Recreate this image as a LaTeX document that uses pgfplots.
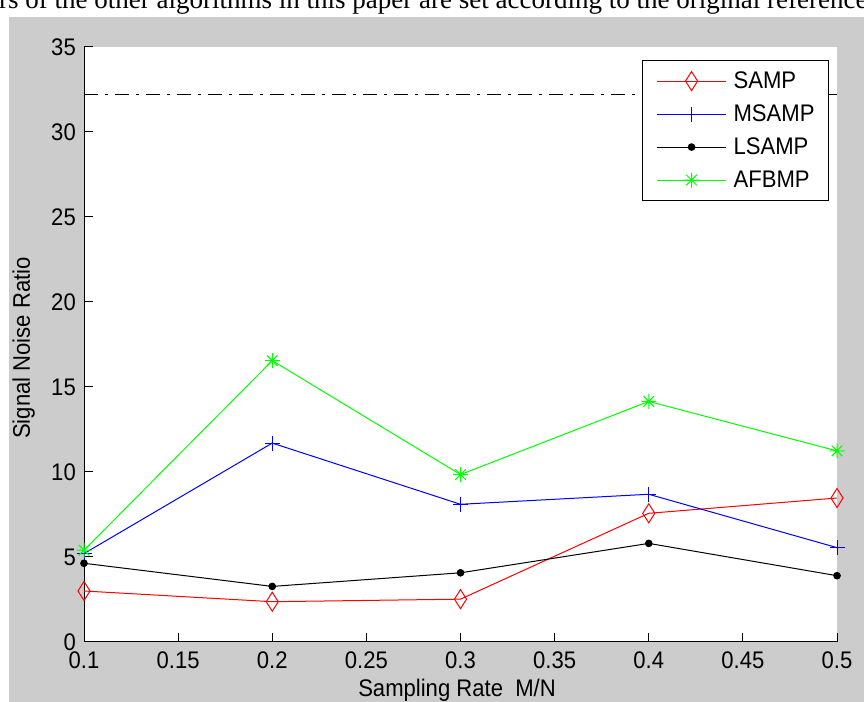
\documentclass[border=0pt]{standalone}
\usepackage{fontspec}
\usepackage{pgfplots}
\pgfplotsset{compat=1.18}
\usetikzlibrary{plotmarks}
\newfontfamily\matfont[FakeStretch=0.92]{Liberation Sans}
\newfontfamily\timesfont{Liberation Serif}
\definecolor{figgray}{RGB}{204,204,204}
\newcommand{\mf}{\matfont\fontsize{24bp}{28bp}\selectfont}
\pgfdeclareplotmark{mstar}{%
 \pgfpathmoveto{\pgfqpoint{-\pgfplotmarksize}{0pt}}\pgfpathlineto{\pgfqpoint{\pgfplotmarksize}{0pt}}%
 \pgfpathmoveto{\pgfqpoint{0pt}{-\pgfplotmarksize}}\pgfpathlineto{\pgfqpoint{0pt}{\pgfplotmarksize}}%
 \pgfpathmoveto{\pgfqpoint{-.707\pgfplotmarksize}{-.707\pgfplotmarksize}}\pgfpathlineto{\pgfqpoint{.707\pgfplotmarksize}{.707\pgfplotmarksize}}%
 \pgfpathmoveto{\pgfqpoint{-.707\pgfplotmarksize}{.707\pgfplotmarksize}}\pgfpathlineto{\pgfqpoint{.707\pgfplotmarksize}{-.707\pgfplotmarksize}}%
 \pgfusepathqstroke}
\begin{document}
\begin{tikzpicture}[x=1bp,y=1bp]
\useasboundingbox (0,0) rectangle (864,702);
\clip (0,0) rectangle (864,702);
\fill[white] (0,0) rectangle (864,702);
\fill[figgray] (9,0) rectangle (864,685);
\node[anchor=base west, inner sep=0pt, font=\timesfont\fontsize{27bp}{30bp}\selectfont] at (-1,693) {rs of the other algorithms in this paper are set according to the original reference};
\begin{axis}[
  at={(84bp,60bp)}, anchor=south west,
  width=753bp, height=595bp, scale only axis,
  xmin=0.1, xmax=0.5, ymin=0, ymax=35,
  axis x line*=bottom, axis y line*=left,
  axis line style={black, line width=1bp},
  axis background/.style={fill=white},
  tick align=inside,
  major tick length=9bp,
  every tick/.style={black, line width=1bp},
  xtick={0.1,0.15,0.2,0.25,0.3,0.35,0.4,0.45,0.5},
  xticklabels={0.1,0.15,0.2,0.25,0.3,0.35,0.4,0.45,0.5},
  ytick={0,5,10,15,20,25,30,35},
  yticklabels={0,5,10,15,20,25,30,35},
  tick label style={font=\mf, text=black},
  xticklabel style={anchor=north, inner sep=0pt, yshift=-10bp},
  yticklabel style={anchor=east, inner sep=0pt, xshift=-8bp},
  xlabel={Sampling Rate\ \ M/N},
  xlabel style={font=\mf, at={(axis description cs:0.4954,0)}, anchor=base, inner sep=0pt, yshift=-55bp},
  ylabel={Signal Noise Ratio},
  ylabel style={font=\mf, at={(axis description cs:0,0.494)}, anchor=base, inner sep=0pt, yshift=54bp},
  clip=false,
  legend image code/.code={\draw[mark repeat=2,mark phase=2,#1] plot coordinates {(0bp,0bp) (34.5bp,0bp) (69bp,0bp)};},
  legend style={at={(0.9894,0.978)}, anchor=north east, draw=black, line width=1bp, fill=white,
    font=\mf, inner xsep=14bp, inner ysep=11bp,
    row sep={33bp,between origins},
    nodes={inner sep=0pt},
    /tikz/every odd column/.append style={column sep=7bp}},
  legend cell align=left,
]
\addplot[black, line width=1bp, dash pattern=on 14bp off 7bp on 3bp off 7bp, forget plot] coordinates {(0.1,32.2) (0.5,32.2)};
\addplot[red, line width=1bp, mark=diamond, mark size=9.5bp, mark options={solid, xscale=0.85}] coordinates {(0.1,3.0) (0.2,2.37) (0.3,2.52) (0.4,7.57) (0.5,8.47)};
\addplot[blue, line width=1bp, mark=+, mark size=7.5bp] coordinates {(0.1,5.2) (0.2,11.7) (0.3,8.1) (0.4,8.69) (0.5,5.55)};
\addplot[black, line width=1bp, mark=*, mark size=3.3bp, mark options={fill=black}] coordinates {(0.1,4.63) (0.2,3.27) (0.3,4.07) (0.4,5.8) (0.5,3.9)};
\addplot[green, line width=1bp, mark=mstar, mark size=7.5bp] coordinates {(0.1,5.4) (0.2,16.55) (0.3,9.85) (0.4,14.15) (0.5,11.24)};
\legend{SAMP,MSAMP,LSAMP,AFBMP}
\end{axis}
\end{tikzpicture}
\end{document}
